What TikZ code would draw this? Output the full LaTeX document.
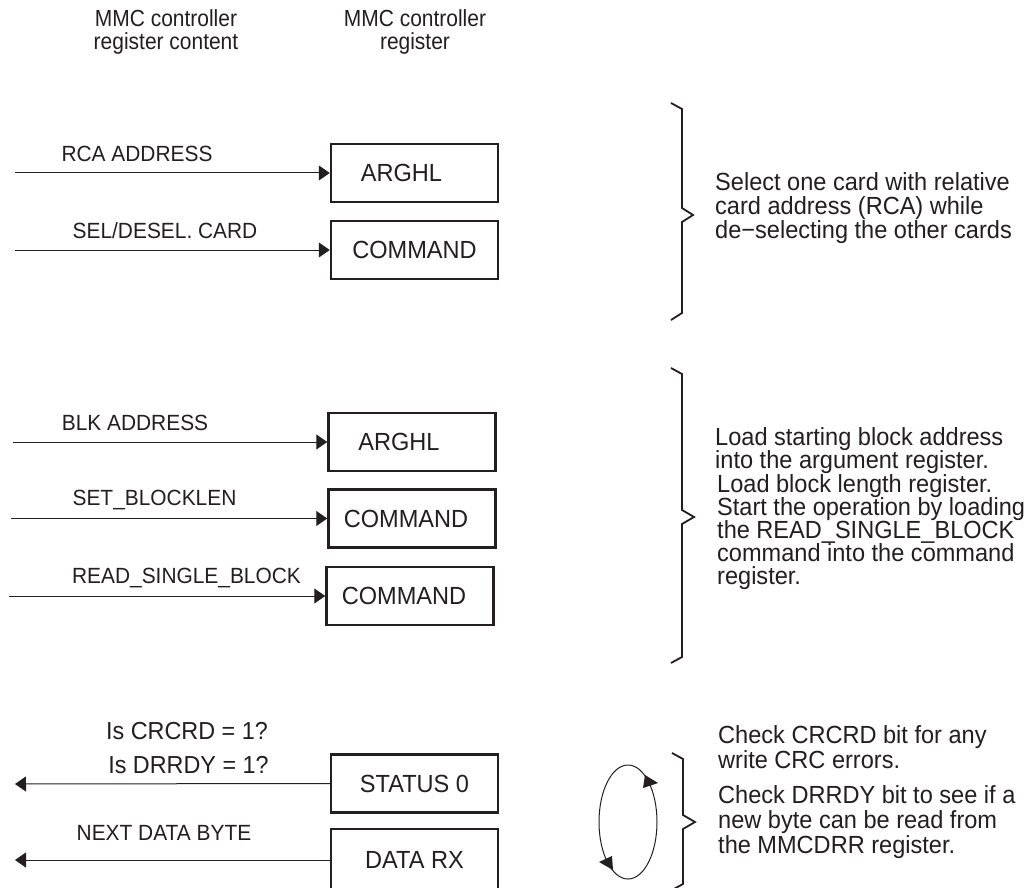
\documentclass[tikz,border=0pt]{standalone}
\usepackage{fontspec}
\setmainfont{Liberation Sans}
\newfontfamily\hdrfont[FakeStretch=0.9]{Liberation Sans}
\newfontfamily\lblfont[FakeStretch=0.95]{Liberation Sans}
\usetikzlibrary{arrows.meta}
\definecolor{ink}{RGB}{35,31,32}
\tikzset{
  hdr/.style={font=\hdrfont\fontsize{23.3}{28}\selectfont, text=ink, inner sep=0pt, anchor=base},
  lbl/.style={font=\lblfont\fontsize{22}{26}\selectfont, text=ink, inner sep=0pt, anchor=base},
  lblb/.style={font=\lblfont\fontsize{24.6}{29}\selectfont, text=ink, inner sep=0pt, anchor=base},
  desc/.style={font=\lblfont\fontsize{24.8}{29}\selectfont, text=ink, inner sep=0pt, anchor=base west},
  reg/.style={draw=ink, line width=2.5pt, minimum width=167pt, minimum height=58pt, inner sep=0pt,
              font=\lblfont\fontsize{24.8}{29}\selectfont, text=ink},
  conn/.style={draw=ink, line width=1pt, -{Triangle[length=11pt,width=15pt]}},
  bracket/.style={draw=ink, line width=1.8pt, line join=miter},
}
\begin{document}
\begin{tikzpicture}[x=1pt,y=-1pt]
\useasboundingbox (0,0) rectangle (1031,888);
\clip (0,0) rectangle (1031,888);
\fill[white] (0,0) rectangle (1031,888);

% headers
\node[hdr] (h1a) at (166,27) {MMC controller};
\node[hdr] (h1b) at (166,50) {register content};
\node[hdr] (h2a) at (415,27) {MMC controller};
\node[hdr] (h2b) at (415,50) {register};

% section 1
\node[reg] (A1) at (414.5,173) {ARGHL\hspace*{26pt}};
\node[reg] (C1) at (414.5,250) {COMMAND};
\coordinate (s1) at (15,173);
\coordinate (s2) at (15,250);
\draw[conn] (s1) -- (A1.west);
\draw[conn] (s2) -- (C1.west);
\node[lbl] (l1) at (137,161) {RCA ADDRESS};
\node[lbl] (l2) at (165,238) {SEL/DESEL. CARD};
\draw[bracket] (671,103) -- (682,109) -- (682,208) -- (693,215) -- (682,222) -- (682,313) -- (671,320);
\node[desc] (d1a) at (715,190) {Select one card with relative};
\node[desc] (d1b) at (715,214) {card address (RCA) while};
\node[desc] (d1c) at (715,238) {de−selecting the other cards};

% section 2
\node[reg] (A2) at (412,442) {ARGHL\hspace*{26pt}};
\node[reg] (C2) at (412,518.5) {COMMAND\hspace*{12pt}};
\node[reg] (C3) at (410,596) {COMMAND\hspace*{12pt}};
\coordinate (s3) at (13,442);
\coordinate (s4) at (11,518.5);
\coordinate (s5) at (9,596);
\draw[conn] (s3) -- (A2.west);
\draw[conn] (s4) -- (C2.west);
\draw[conn] (s5) -- (C3.west);
\node[lbl] (l3) at (135,430) {BLK ADDRESS};
\node[lbl] (l4) at (154.5,505) {SET\_BLOCKLEN};
\node[lbl] (l5) at (186.5,583) {READ\_SINGLE\_BLOCK};
\draw[bracket] (671,368) -- (682,374) -- (682,510) -- (694,517) -- (682,524) -- (682,657) -- (671,663);
\node[desc] (d2a) at (715,445) {Load starting block address};
\node[desc] (d2b) at (715,468) {into the argument register.};
\node[desc] (d2c) at (717,492) {Load block length register.};
\node[desc] (d2d) at (717,515) {Start the operation by loading};
\node[desc] (d2e) at (717,538) {the READ\_SINGLE\_BLOCK};
\node[desc] (d2f) at (717,561) {command into the command};
\node[desc] (d2g) at (717,584) {register.};

% section 3
\node[reg] (S0) at (414.5,783.5) {STATUS 0};
\node[reg, minimum height=62pt] (DRX) at (414.5,860) {DATA RX};
\coordinate (e1) at (15,784);
\coordinate (e2) at (15,860);
\draw[conn] (S0.west) -- (e1);
\draw[conn] (DRX.west) -- (e2);
\node[lblb] (l6) at (187,739) {Is CRCRD = 1?};
\node[lblb] (l7) at (188.5,773) {Is DRRDY = 1?};
\node[lbl] (l8) at (164,840) {NEXT DATA BYTE};
\draw[ink, line width=1pt] (628,822) ellipse [x radius=29, y radius=57];
\fill[ink] (645,775) -- (658,783) -- (643,788) -- cycle;
\fill[ink] (599,862) -- (612,856) -- (613,870) -- cycle;
\draw[bracket] (672,753) -- (683,759) -- (683,815) -- (695,822) -- (683,829) -- (683,884) -- (672,890);
\node[desc] (d3a) at (718,743) {Check CRCRD bit for any};
\node[desc] (d3b) at (718,768) {write CRC errors.};
\node[desc] (d3c) at (718,803) {Check DRRDY bit to see if a};
\node[desc] (d3d) at (718,828) {new byte can be read from};
\node[desc] (d3e) at (718,853) {the MMCDRR register.};
\end{tikzpicture}
\end{document}
